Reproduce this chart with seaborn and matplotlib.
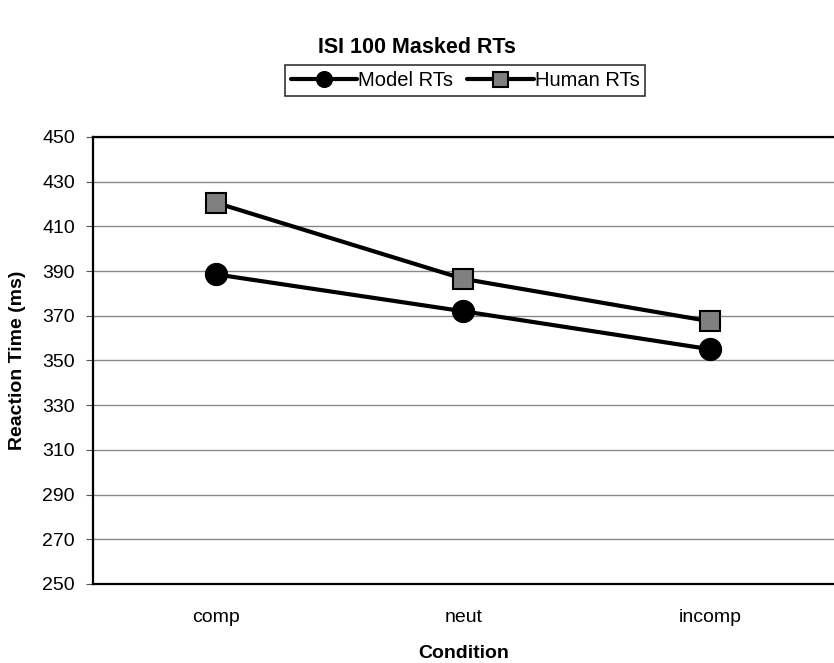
import pandas as pd
import matplotlib.pyplot as plt
import seaborn as sns

# valores
conditions = ['comp', 'neut', 'incomp']
model_rts = [388.5, 372.0, 355.0]
human_rts = [420.5, 386.5, 367.5]
y_ticks = list(range(250, 451, 20))

df = pd.DataFrame({'Condition': conditions, 'Model RTs': model_rts, 'Human RTs': human_rts})

sns.set_style('white')
plt.rcParams['font.family'] = ['Liberation Sans', 'DejaVu Sans']
plt.rcParams['text.color'] = 'black'
plt.rcParams['axes.labelcolor'] = 'black'
plt.rcParams['xtick.color'] = 'black'
plt.rcParams['ytick.color'] = 'black'

fig = plt.figure(figsize=(8.34, 6.63), dpi=100)
ax = fig.add_axes([0.1115, 0.1192, 0.8885, 0.6742])

sns.lineplot(data=df, x='Condition', y='Model RTs', ax=ax, color='black', lw=3,
             marker='o', markersize=16, markerfacecolor='black', markeredgecolor='black',
             label='Model RTs')
sns.lineplot(data=df, x='Condition', y='Human RTs', ax=ax, color='black', lw=3,
             marker='s', markersize=15, markerfacecolor='#808080', markeredgecolor='black',
             markeredgewidth=1.5, label='Human RTs')

ax.set_ylim(250, 450)
ax.set_xlim(-0.5, 2.5)
ax.set_yticks(y_ticks)
ax.set_yticklabels([str(t) for t in y_ticks], fontsize=14)
ax.set_xticks(range(len(conditions)))
ax.set_xticklabels(conditions, fontsize=14)
ax.set_xticks([-0.5, 0.5, 1.5, 2.5], minor=True)
ax.tick_params(axis='x', which='major', length=0, pad=18)
ax.tick_params(axis='x', which='minor', length=5, width=0.8, color='#555555', direction='out')
ax.tick_params(axis='y', length=5, width=0.8, color='#555555', labelcolor='black',
               direction='out', pad=8, left=True)

ax.grid(True, axis='y', color='#888888', lw=1)
ax.grid(False, axis='x')
ax.set_axisbelow(True)
for side in ['left', 'top', 'bottom']:
    ax.spines[side].set_color('black')
    ax.spines[side].set_linewidth(1.6)
ax.spines['right'].set_visible(False)

ax.set_xlabel('Condition', fontsize=14, fontweight='bold', labelpad=14)
ax.set_ylabel('Reaction Time (ms)', fontsize=14, fontweight='bold', labelpad=12)

ax.get_legend().remove()
handles, labels = ax.get_legend_handles_labels()
leg = fig.legend(handles, labels, loc='center', bbox_to_anchor=(0.5576, 0.879), ncol=2,
                 fontsize=14.5, frameon=True, fancybox=False, markerscale=0.72,
                 handlelength=3.3, handletextpad=0.05, columnspacing=0.7,
                 borderpad=0.3, borderaxespad=0)
leg.get_frame().set_edgecolor('black')
leg.get_frame().set_linewidth(1.2)

fig.text(0.5, 0.929, 'ISI 100 Masked RTs', ha='center', va='center', fontsize=15.5, fontweight='bold')

plt.savefig('out.png', dpi=100)
